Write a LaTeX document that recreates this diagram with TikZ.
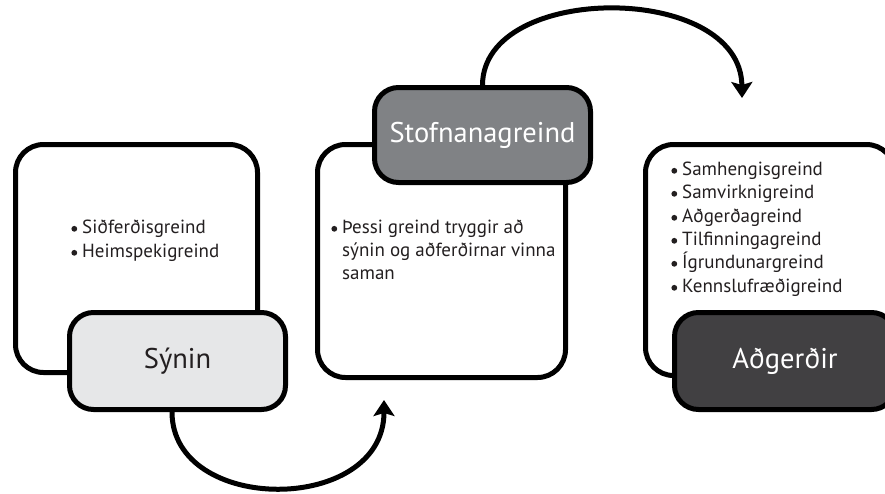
\documentclass[tikz,border=0pt]{standalone}
\usepackage{fontspec}
\setmainfont{PT Sans}
\usetikzlibrary{arrows.meta}
\definecolor{lightfill}{HTML}{E6E7E8}
\definecolor{midfill}{HTML}{808285}
\definecolor{darkfill}{HTML}{414042}
\definecolor{inkblack}{HTML}{231F20}
\newcommand\bulletdot{\llap{\raisebox{1.3pt}{\tikz\fill[inkblack] (0,0) circle (2.9pt);}\hspace{5pt}}}
\begin{document}
\begin{tikzpicture}[x=1pt,y=-1pt,
  contentbox/.style={draw=black, line width=5pt, rounded corners=28pt, fill=white, inner sep=0pt},
  labelbox/.style={draw=black, line width=5pt, rounded corners=24pt, inner sep=0pt,
    minimum width=216pt, minimum height=97pt, font=\fontsize{28.5}{34}\selectfont},
  item/.style={anchor=base west, inner sep=0pt, text=inkblack, font=\fontsize{19}{22}\selectfont},
  flow/.style={draw=black, line width=5pt, -{Stealth[length=16pt,width=21pt,inset=3pt]}}]
\useasboundingbox (0,0) rectangle (885,493);
\fill[white] (0,0) rectangle (885,493);
% content boxes
\node[contentbox, minimum width=242pt, minimum height=228pt] (c1) at (136.5,258.5) {};
\node[contentbox, minimum width=248pt, minimum height=233pt] (c2) at (441.5,261) {};
\node[contentbox, minimum width=249pt, minimum height=231pt] (c3) at (770,260) {};
% label boxes
\node[labelbox, fill=lightfill, text=inkblack] (synin) at (177.5,361) {Sýnin};
\node[labelbox, fill=midfill, text=white, minimum height=95pt] (stofn) at (482.5,135) {Stofnanagreind};
\node[labelbox, fill=darkfill, text=white, minimum width=221pt] (adg) at (785,361) {Aðgerðir};
% arrows
\coordinate (e1) at (384,400);
\coordinate (e2) at (742,98);
\draw[flow] ([xshift=-5.5pt]synin.south) .. controls (172,515) and (384,515) .. (e1);
\draw[flow] (stofn.north) .. controls (483,-18) and (741,-18) .. (e2);
% texts
\node[item] (t11) at (82,233) {\bulletdot Siðferðisgreind};
\node[item] (t12) at (82,257) {\bulletdot Heimspekigreind};
\node[item] (t21) at (342,233) {\bulletdot Þessi greind tryggir að};
\node[item] (t22) at (342,256) {sýnin og aðferðirnar vinna};
\node[item] (t23) at (342,279) {saman};
\node[item] (t31) at (682,175) {\bulletdot Samhengisgreind};
\node[item] (t32) at (682,198) {\bulletdot Samvirknigreind};
\node[item] (t33) at (682,222) {\bulletdot Aðgerðagreind};
\node[item] (t34) at (682,245) {\bulletdot Tilfinningagreind};
\node[item] (t35) at (682,268) {\bulletdot Ígrundunargreind};
\node[item] (t36) at (682,292) {\bulletdot Kennslufræðigreind};
\end{tikzpicture}
\end{document}
